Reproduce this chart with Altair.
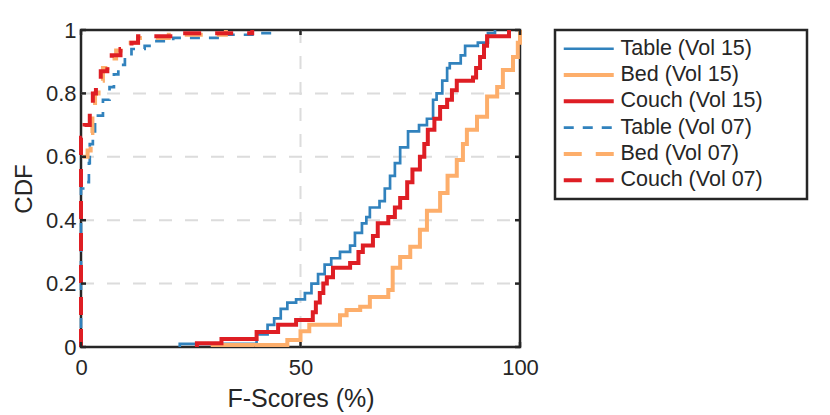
import altair as alt
import pandas as pd

SERIES = ["Table (Vol 15)", "Bed (Vol 15)", "Couch (Vol 15)",
          "Table (Vol 07)", "Bed (Vol 07)", "Couch (Vol 07)"]
COLORS = ["#3182bd", "#fdae6b", "#de1e24", "#3182bd", "#fdae6b", "#de1e24"]
DASHES = [[1, 0], [1, 0], [1, 0], [10, 9], [18, 14], [18, 14]]
WIDTHS = [2.7, 4, 4, 2.7, 4, 4]

table15_x = [22.5, 22.5, 40.0, 42.5, 44.0, 45.5, 47.0, 49.0, 51.0, 52.5, 54.0, 55.5, 57.0, 59.0,
             61.3, 62.4, 64.0, 65.0, 65.8, 68.0, 69.2, 70.4, 71.5, 72.7, 74.5, 77.0, 78.8, 80.2,
             81.0, 82.3, 83.4, 84.0, 86.5, 87.5, 90.4, 92.7, 94.3]
table15_y = [0.0, 0.01, 0.04, 0.07, 0.09, 0.12, 0.14, 0.15, 0.17, 0.20, 0.23, 0.26, 0.28, 0.30,
             0.32, 0.36, 0.39, 0.41, 0.44, 0.46, 0.50, 0.54, 0.58, 0.63, 0.68, 0.70, 0.72, 0.78,
             0.80, 0.84, 0.88, 0.895, 0.92, 0.95, 0.96, 0.99, 1.0]

bed15_x = [30.0, 30.0, 47.0, 50.0, 52.0, 59.0, 60.5, 63.6, 65.8, 70.0, 71.0, 72.7, 75.0, 77.2,
           78.8, 81.8, 83.5, 85.6, 87.0, 87.9, 90.2, 92.5, 94.8, 96.1, 98.4, 99.5, 100.0]
bed15_y = [0.0, 0.006, 0.022, 0.05, 0.07, 0.10, 0.117, 0.127, 0.158, 0.18, 0.25, 0.284, 0.316,
           0.37, 0.43, 0.486, 0.54, 0.59, 0.64, 0.685, 0.726, 0.79, 0.82, 0.874, 0.915, 0.96, 1.0]

couch15_x = [26.4, 26.4, 32.0, 40.0, 44.9, 49.0, 52.8, 53.5, 54.4, 55.2, 56.0, 57.4, 61.3, 63.2,
             64.2, 66.5, 67.6, 70.0, 71.5, 72.7, 74.3, 75.5, 77.2, 78.2, 79.0, 80.5, 81.8, 83.4,
             84.5, 85.6, 89.3, 90.0, 90.9, 91.8, 92.5, 97.5]
couch15_y = [0.0, 0.012, 0.025, 0.047, 0.07, 0.085, 0.11, 0.14, 0.17, 0.20, 0.22, 0.25, 0.265,
             0.30, 0.32, 0.35, 0.39, 0.41, 0.44, 0.47, 0.52, 0.56, 0.60, 0.64, 0.685, 0.72, 0.757,
             0.78, 0.81, 0.84, 0.85, 0.88, 0.915, 0.95, 0.98, 1.0]

table07_x = [0, 0, 1.2, 1.8, 2.0, 2.7, 3.2, 5.0, 6.5, 7.5, 8.5, 10.0, 11.5, 14.5, 16.0, 21.0,
             33.0, 41.0, 44.0]
table07_y = [0, 0.50, 0.52, 0.58, 0.64, 0.68, 0.73, 0.78, 0.82, 0.86, 0.89, 0.915, 0.94, 0.95,
             0.965, 0.975, 0.985, 0.99, 1.0]

bed07_x = [0, 0, 1.5, 2.2, 2.6, 3.2, 4.0, 5.0, 6.0, 8.0, 10.5, 13.0, 20.0, 33.0]
bed07_y = [0, 0.60, 0.62, 0.675, 0.76, 0.80, 0.84, 0.88, 0.91, 0.935, 0.96, 0.975, 0.985, 1.0]

couch07_x = [0, 0, 0.8, 2.0, 2.7, 3.4, 4.5, 6.0, 7.0, 9.0, 11.5, 13.0, 23.0, 39.0]
couch07_y = [0, 0.66, 0.70, 0.74, 0.80, 0.83, 0.87, 0.89, 0.92, 0.94, 0.96, 0.98, 0.99, 1.0]

XTICKS = [0, 50, 100]
YTICKS = [0, 0.2, 0.4, 0.6, 0.8, 1]
XGRID = [50]
YGRID = [0.2, 0.4, 0.6, 0.8]

curves = [(table15_x, table15_y), (bed15_x, bed15_y), (couch15_x, couch15_y),
          (table07_x, table07_y), (bed07_x, bed07_y), (couch07_x, couch07_y)]
rows = []
for name, (xs, ys) in zip(SERIES, curves):
    for i, (xv, yv) in enumerate(zip(xs, ys)):
        rows.append({"series": name, "x": xv, "y": yv, "i": i})
df = pd.DataFrame(rows)

W, H = 439, 317
FONT = "Liberation Sans"
TXT = "#262626"
PAD_TAIL = "\u00a0" * 6 + "\u200b"

xscale = alt.Scale(domain=[0, 100], nice=False, zero=False)
yscale = alt.Scale(domain=[0, 1], nice=False, zero=False)

xaxis = alt.Axis(values=XTICKS, grid=False, domain=False, ticks=False, labelFlush=False,
                 labelFontSize=22, labelPadding=10, labelFont=FONT, labelColor=TXT,
                 titleFont=FONT, titleFontSize=25, titleFontWeight="normal", titleColor=TXT,
                 titlePadding=8)
yaxis = alt.Axis(values=YTICKS, format="~g", grid=False, domain=False, ticks=False,
                 labelFontSize=22, labelPadding=5, labelFont=FONT, labelColor=TXT,
                 titleFont=FONT, titleFontSize=24, titleFontWeight="normal", titleColor=TXT,
                 titlePadding=9)

legend = alt.Legend(title=None, orient="none", legendX=474, legendY=0, direction="vertical",
                    symbolType="M-5,0L5,0", symbolSize=100, symbolOffset=15, labelOffset=21,
                    labelFontSize=21.5, labelFont=FONT, labelColor=TXT, rowPadding=3.3, padding=8,
                    labelLimit=400, strokeColor=TXT, labelExpr="datum.label + '" + PAD_TAIL + "'")

XT = "F-Scores (%)"
YT = "CDF"

base = alt.Chart(df).mark_line(interpolate="step-after", clip=False).encode(
    x=alt.X("x:Q", scale=xscale, axis=xaxis, title=XT),
    y=alt.Y("y:Q", scale=yscale, axis=yaxis, title=YT),
    color=alt.Color("series:N", scale=alt.Scale(domain=SERIES, range=COLORS), legend=legend),
    strokeDash=alt.StrokeDash("series:N", scale=alt.Scale(domain=SERIES, range=DASHES), legend=legend),
    strokeWidth=alt.StrokeWidth("series:N", scale=alt.Scale(type="ordinal", domain=SERIES, range=WIDTHS),
                                legend=legend),
    order="i:Q",
)
line_layers = [base.transform_filter(alt.datum.series == s) for s in SERIES]

yt = pd.DataFrame({"v": YTICKS})
xt = pd.DataFrame({"v": XTICKS})
yg = pd.DataFrame({"v": YGRID})
xg = pd.DataFrame({"v": XGRID})

grid_style = dict(color="#dcdcdc", strokeWidth=2, strokeDash=[13, 13])
grid_h = alt.Chart(yg).mark_rule(**grid_style).encode(
    y=alt.Y("v:Q", scale=yscale, axis=yaxis, title=YT), x=alt.value(0), x2=alt.value(W))
grid_v = alt.Chart(xg).mark_rule(**grid_style).encode(
    x=alt.X("v:Q", scale=xscale, axis=xaxis, title=XT), y=alt.value(0), y2=alt.value(H))

tick_style = dict(color=TXT, strokeWidth=2.5)
tick_left = alt.Chart(yt).mark_rule(**tick_style).encode(
    y=alt.Y("v:Q", scale=yscale, axis=yaxis, title=YT), x=alt.value(0), x2=alt.value(5))
tick_right = alt.Chart(yt).mark_rule(**tick_style).encode(
    y=alt.Y("v:Q", scale=yscale, axis=yaxis, title=YT), x=alt.value(W), x2=alt.value(W - 5))
tick_bottom = alt.Chart(xt).mark_rule(**tick_style).encode(
    x=alt.X("v:Q", scale=xscale, axis=xaxis, title=XT), y=alt.value(H), y2=alt.value(H - 5))
tick_top = alt.Chart(xt).mark_rule(**tick_style).encode(
    x=alt.X("v:Q", scale=xscale, axis=xaxis, title=XT), y=alt.value(0), y2=alt.value(5))

chart = alt.layer(grid_h, grid_v, *line_layers, tick_left, tick_right, tick_bottom, tick_top).properties(
    width=W, height=H,
    padding={"left": 73, "top": 22, "right": 302, "bottom": 72},
    autosize=alt.AutoSizeParams(type="none"),
).configure_view(stroke=TXT, strokeWidth=2.5).configure_legend(strokeWidth=2.5)

chart.save("out.html", embed_options={"renderer": "svg", "actions": False})
